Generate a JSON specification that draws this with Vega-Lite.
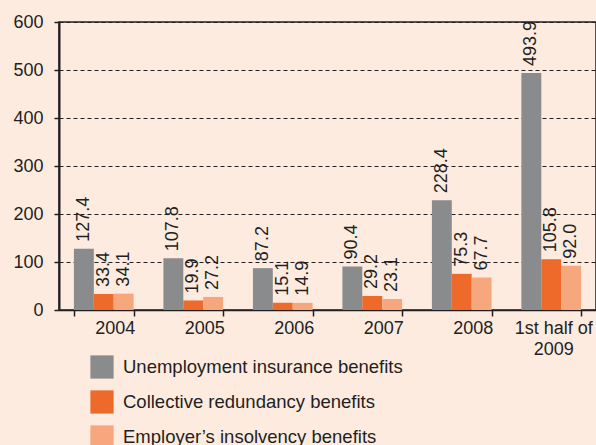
{
  "$schema": "https://vega.github.io/schema/vega-lite/v6.json",
  "width": 537,
  "height": 288,
  "autosize": {"type": "none"},
  "padding": {"left": 59, "top": 22, "right": 0, "bottom": 135},
  "background": "#fdebe0",
  "config": {
    "view": {"stroke": "#231f20", "strokeWidth": 1.5},
    "font": "Liberation Sans"
  },
  "data": {
    "values": [
      {"period": "2004", "series": "Unemployment insurance benefits", "value": 127.4},
      {"period": "2004", "series": "Collective redundancy benefits", "value": 33.4},
      {"period": "2004", "series": "Employer’s insolvency benefits", "value": 34.1},
      {"period": "2005", "series": "Unemployment insurance benefits", "value": 107.8},
      {"period": "2005", "series": "Collective redundancy benefits", "value": 19.9},
      {"period": "2005", "series": "Employer’s insolvency benefits", "value": 27.2},
      {"period": "2006", "series": "Unemployment insurance benefits", "value": 87.2},
      {"period": "2006", "series": "Collective redundancy benefits", "value": 15.1},
      {"period": "2006", "series": "Employer’s insolvency benefits", "value": 14.9},
      {"period": "2007", "series": "Unemployment insurance benefits", "value": 90.4},
      {"period": "2007", "series": "Collective redundancy benefits", "value": 29.2},
      {"period": "2007", "series": "Employer’s insolvency benefits", "value": 23.1},
      {"period": "2008", "series": "Unemployment insurance benefits", "value": 228.4},
      {"period": "2008", "series": "Collective redundancy benefits", "value": 75.3},
      {"period": "2008", "series": "Employer’s insolvency benefits", "value": 67.7},
      {"period": "1st half of 2009", "series": "Unemployment insurance benefits", "value": 493.9},
      {"period": "1st half of 2009", "series": "Collective redundancy benefits", "value": 105.8},
      {"period": "1st half of 2009", "series": "Employer’s insolvency benefits", "value": 92.0}
    ]
  },
  "encoding": {
    "x": {
      "field": "period",
      "type": "nominal",
      "sort": null,
      "scale": {"paddingInner": 0.333, "paddingOuter": 0.1667},
      "axis": {
        "title": null,
        "labelAngle": 0,
        "tickBand": "extent",
        "tickSize": 6,
        "tickWidth": 1.5,
        "tickColor": "#231f20",
        "domainColor": "#231f20",
        "domainWidth": 1.5,
        "labelFontSize": 18,
        "labelColor": "#231f20",
        "labelPadding": 3,
        "labelLineHeight": 21,
        "labelOffset": {"condition": {"test": "datum.value == '1st half of 2009'", "value": 2}, "value": 11},
        "labelExpr": "datum.label == '1st half of 2009' ? ['1st half of', '2009'] : datum.label",
        "grid": false
      }
    },
    "xOffset": {
      "field": "series",
      "type": "nominal",
      "sort": ["Unemployment insurance benefits", "Collective redundancy benefits", "Employer’s insolvency benefits"],
      "scale": {"paddingInner": 0, "paddingOuter": 0}
    },
    "y": {
      "field": "value",
      "type": "quantitative",
      "scale": {"domain": [0, 600], "nice": false},
      "axis": {
        "title": null,
        "values": [0, 100, 200, 300, 400, 500, 600],
        "domainColor": "#231f20",
        "domainWidth": 2,
        "tickColor": "#231f20",
        "tickSize": 5,
        "tickWidth": 1.5,
        "labelFontSize": 18,
        "labelColor": "#231f20",
        "labelPadding": 11,
        "grid": true,
        "gridColor": "#231f20",
        "gridDash": [4, 3],
        "gridWidth": 1
      }
    }
  },
  "layer": [
    {
      "mark": {"type": "bar"},
      "encoding": {
        "color": {
          "field": "series",
          "type": "nominal",
          "sort": ["Unemployment insurance benefits", "Collective redundancy benefits", "Employer’s insolvency benefits"],
          "scale": {
            "domain": ["Unemployment insurance benefits", "Collective redundancy benefits", "Employer’s insolvency benefits"],
            "range": ["#8a8b8d", "#ee6a2b", "#f6a77e"]
          },
          "legend": {
            "title": null,
            "orient": "none",
            "legendX": 31,
            "legendY": 333,
            "direction": "vertical",
            "symbolType": "square",
            "symbolSize": 540,
            "symbolStrokeWidth": 0,
            "labelFontSize": 18.5,
            "labelColor": "#231f20",
            "labelOffset": 9,
            "rowPadding": 11,
            "labelLimit": 400
          }
        }
      }
    },
    {
      "mark": {
        "type": "text",
        "angle": 270,
        "align": "left",
        "baseline": "middle",
        "dx": 7,
        "fontSize": 18,
        "color": "#231f20"
      },
      "encoding": {
        "text": {"field": "value", "type": "quantitative", "format": ".1f"}
      }
    }
  ]
}
